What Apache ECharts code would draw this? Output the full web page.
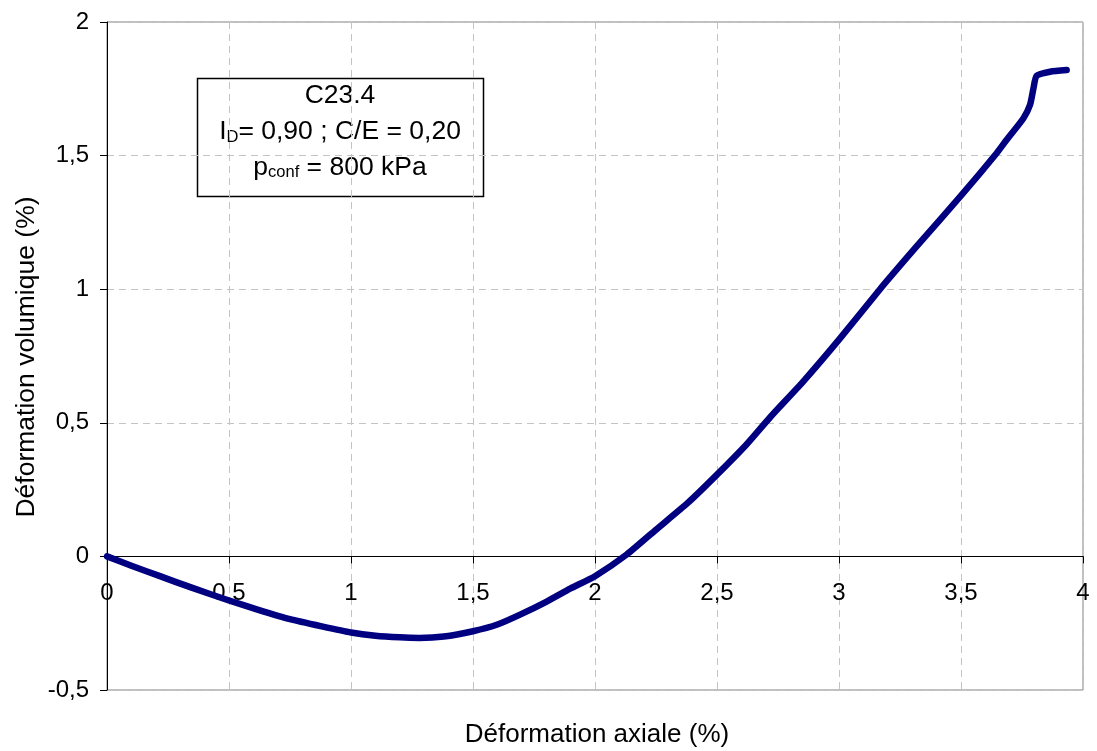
<!DOCTYPE html>
<html>
<head>
<meta charset="utf-8">
<script src="https://cdn.jsdelivr.net/npm/echarts@6/dist/echarts.min.js"></script>
<style>
  html, body { margin: 0; padding: 0; background: #fff; }
  #chart { width: 1097px; height: 751px; }
</style>
</head>
<body>
<div id="chart"></div>
<script>
// Essai triaxial C23.4 : déformation volumique en fonction de la déformation axiale (%)
const axialStrain = [
  0, 0.1, 0.217, 0.35, 0.5, 0.62, 0.75, 0.88, 1.0, 1.1, 1.2, 1.28, 1.38, 1.5,
  1.6, 1.693, 1.8, 1.9, 2.0, 2.13, 2.25, 2.38, 2.5, 2.62, 2.717, 2.854, 3.0,
  3.168, 3.318, 3.5, 3.646, 3.687, 3.756, 3.783, 3.797, 3.81, 3.865, 3.933
];
const volumetricStrain = [
  0, -0.035, -0.074, -0.118, -0.165, -0.2, -0.235, -0.262, -0.285, -0.297, -0.303, -0.305, -0.3, -0.28,
  -0.255, -0.218, -0.17, -0.12, -0.074, 0.007, 0.1, 0.2, 0.306, 0.418, 0.52, 0.655, 0.811,
  1.0, 1.16, 1.35, 1.509, 1.559, 1.64, 1.69, 1.752, 1.799, 1.814, 1.82
];
const xTicks = [0, 0.5, 1, 1.5, 2, 2.5, 3, 3.5, 4];
const yTicks = [-0.5, 0, 0.5, 1, 1.5, 2];

const FONT = '"Liberation Sans", Arial, sans-serif';
const frComma = v => String(v).replace('.', ',');

const GRID = { left: 107, right: 14, top: 22, bottom: 61 };
const plotHeight = 751 - GRID.top - GRID.bottom;
const yMin = yTicks[0], yMax = yTicks[yTicks.length - 1];
// the horizontal axis is drawn where the vertical value is zero
const xAxisLift = plotHeight * (0 - yMin) / (yMax - yMin);

const chart = echarts.init(document.getElementById('chart'), null, { renderer: 'canvas' });

const points = axialStrain.map((x, i) => [x, volumetricStrain[i]]);

chart.setOption({
  animation: false,
  backgroundColor: '#ffffff',
  grid: Object.assign({
    show: true, borderColor: '#808080', borderWidth: 1, backgroundColor: 'transparent'
  }, GRID),
  xAxis: {
    type: 'value',
    position: 'bottom',
    offset: -xAxisLift,
    min: xTicks[0], max: xTicks[xTicks.length - 1], interval: 0.5,
    axisLine: { onZero: false, lineStyle: { color: '#000', width: 1 } },
    axisTick: { show: true, length: 7, lineStyle: { color: '#000' } },
    axisLabel: {
      color: '#000', fontFamily: FONT, fontSize: 24, margin: 25,
      formatter: v => frComma(v)
    },
    splitLine: { show: true, lineStyle: { color: '#c4c4c4', type: [7, 5], width: 1 } }
  },
  yAxis: {
    type: 'value',
    min: yMin, max: yMax, interval: 0.5,
    axisLine: { show: true, onZero: false, lineStyle: { color: '#000', width: 1 } },
    axisTick: { show: true, length: 7, lineStyle: { color: '#000' } },
    axisLabel: {
      color: '#000', fontFamily: FONT, fontSize: 24, margin: 18,
      formatter: v => frComma(v)
    },
    splitLine: { show: true, lineStyle: { color: '#c4c4c4', type: [7, 5], width: 1 } }
  },
  series: [{
    type: 'line',
    data: points,
    showSymbol: false,
    smooth: 0.2,
    lineStyle: { color: '#000080', width: 6.5, cap: 'round', join: 'round' },
    z: 3
  }],
  graphic: [
    {
      type: 'text',
      x: 597, y: 735,
      style: {
        text: 'Déformation axiale (%)',
        font: '26px ' + FONT, fill: '#000',
        textAlign: 'center', textVerticalAlign: 'middle'
      }
    },
    {
      type: 'text',
      x: 27, y: 357, rotation: Math.PI / 2,
      style: {
        text: 'Déformation volumique (%)',
        font: '26.5px ' + FONT, fill: '#000',
        textAlign: 'center', textVerticalAlign: 'middle'
      }
    },
    {
      type: 'group',
      z: 10,
      children: [
        {
          type: 'rect',
          shape: { x: 197.5, y: 78.5, width: 286, height: 118 },
          style: { fill: '#fff', stroke: '#000', lineWidth: 1.5 }
        },
        {
          type: 'text',
          x: 340, y: 132,
          style: {
            text: '{m|C23.4}\n{m|I}{d|D}{m|= 0,90 ; C/E = 0,20}\n{m|p}{c|conf}{m| = 800 kPa}',
            textAlign: 'center', textVerticalAlign: 'middle',
            fill: '#000',
            rich: {
              m: { fontFamily: FONT, fontSize: 26.5, lineHeight: 36, fill: '#000' },
              d: { fontFamily: FONT, fontSize: 16.5, fill: '#000', padding: [10, 0, 0, 0] },
              c: { fontFamily: FONT, fontSize: 16.5, fill: '#000', padding: [8, 0, 0, 0] }
            }
          }
        }
      ]
    }
  ]
});
</script>
</body>
</html>
